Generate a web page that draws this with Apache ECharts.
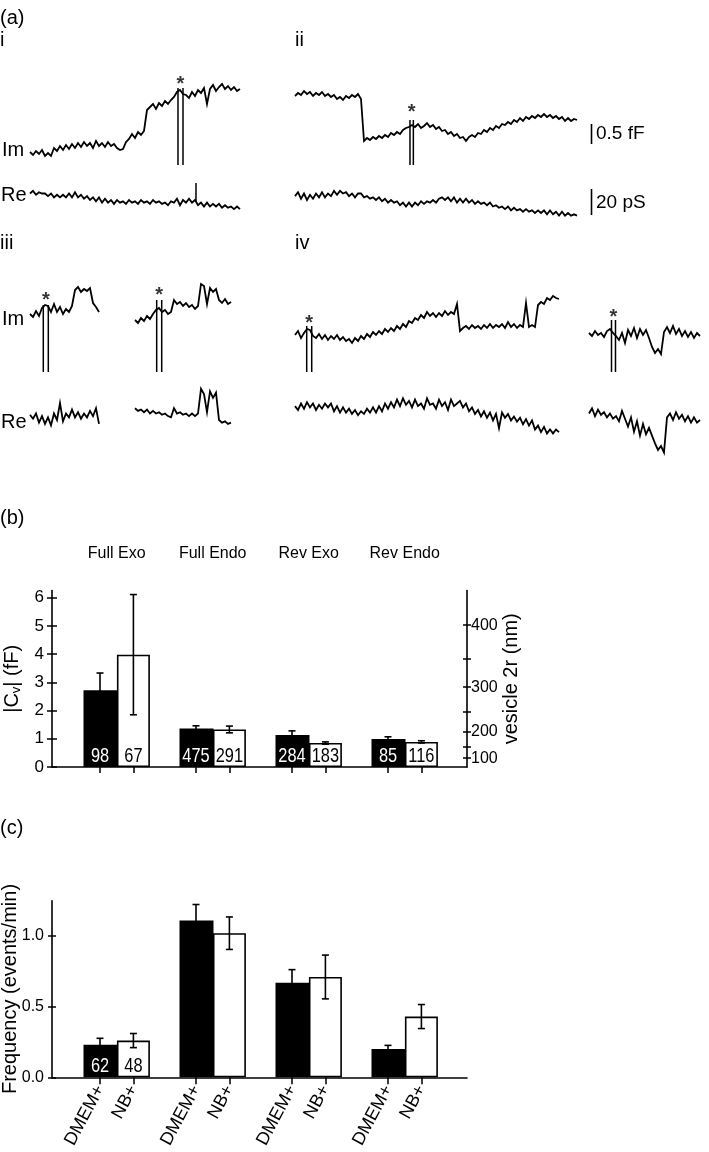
<!DOCTYPE html>
<html><head><meta charset="utf-8">
<script src="https://cdn.jsdelivr.net/npm/echarts@6/dist/echarts.min.js"></script>
<style>html,body{margin:0;padding:0;background:#fff}#c{width:709px;height:1152px}</style>
</head><body><div id="c"></div><script>
// ---------- Panel (a) traces: Im in aF, Re in pS, uniformly sampled ----------
const imI = [75,0,100,25,125,-25,50,-25,175,100,225,125,250,150,275,175,300,200,325,225,300,175,350,225,300,200,325,225,275,175,125,150,325,400,525,425,575,500,600,1125,1200,1275,1150,1300,1225,1350,1275,1375,1450,1575,1625,1525,1500,1425,1575,1475,1625,1550,1675,1275,1650,1750,1600,1700,1775,1650,1725,1625,1700,1600,1650];
const reI = [5,7,4,6,5,5,3,5,2,4,2,4,2,5,2,6,2,4,1,3,0,2,-1,2,-2,1,-2,0,-3,0,-2,-1,-3,0,-2,-1,-3,0,-2,-1,-3,0,-2,-1,-3,-2,-4,-1,-2,1,-4,0,-2,1,-2,0,-4,-2,-5,-2,-5,-3,-5,-3,-6,-4,-6,-5,-7,-5,-7];
const imII = [1100,1175,1125,1225,1150,1200,1100,1175,1125,1200,1100,1150,1075,1125,1025,1075,1000,1100,1050,1125,1075,1150,1025,
 -25,50,0,75,25,100,50,125,75,175,125,200,150,250,300,325,
 375,325,400,300,350,425,325,375,275,325,225,250,150,200,100,150,50,75,-25,75,125,75,175,150,250,200,300,250,350,300,400,375,450,400,500,450,550,475,575,525,600,550,625,575,650,575,625,550,600,525,575,475,550,475,525,500];
const reII = [3,6,1,5,0,4,1,5,2,6,2,5,3,7,4,7,5,6,3,5,2,5,5,
 2,3,1,2,0,2,-1,1,-2,0,-2,-1,-4,-2,-5,-2,
 -5,-2,-4,-1,-3,-1,-2,0,-2,1,2,0,2,-1,2,-2,1,-2,1,-2,0,-3,-1,-3,-2,-4,-2,-5,-4,-6,-5,-7,-5,-8,-6,-8,-7,-9,-7,-9,-8,-10,-8,-10,-8,-11,-8,-11,-9,-12,-9,-12,-10,-12,-11,-12];
const imIII1 = [150,75,225,100,300,375,350,200,400,200,325,150,275,200,350,750,825,700,775,725,800,425,325,200];
const imIII2 = [0,-75,50,-25,100,25,150,250,300,200,250,150,200,500,400,450,350,425,325,375,275,350,900,850,400,800,700,775,500,425,525,400,450];
const reIII1 = [4,1,5,-2,3,-3,2,-4,5,0,13,-1,5,2,8,2,6,1,5,2,7,3,9,-3];
const reIII2 = [9,7,8,6,8,5,7,5,6,4,5,3,2,9,5,6,4,5,3,5,3,5,24,20,6,22,17,21,0,-2,-1,-3,-2];
const imIV1 = [125,225,50,175,275,250,100,50,150,25,125,0,100,25,125,0,75,-25,25,-75,50,-25,100,25,150,75,200,125,225,150,275,200,300,225,350,275,400,325,475,425,550,500,625,550,700,600,675,575,675,600,725,625,700,650,900,225,300,350,275,375,300,350,275,375,300,400,300,375,325,400,300,450,325,400,300,375,325,925,325,375,325,875,950,900,1050,1000,1100,1050,1025];
const reIV1 = [3,0,5,1,6,2,5,0,4,1,5,2,5,-1,3,-2,2,-2,1,-3,0,-4,-1,-3,1,-2,2,-2,3,-1,5,1,6,2,8,3,9,4,7,2,8,3,5,1,9,4,5,1,8,3,6,0,8,3,5,7,2,5,-1,2,-3,0,-5,-1,-6,-2,-8,-3,-14,-2,-6,-3,-8,-5,-9,-6,-11,-7,-12,-8,-15,-12,-17,-13,-18,-15,-18,-15,-17];
const imIV2 = [175,100,225,125,175,75,225,275,175,100,0,175,-75,250,100,300,50,275,125,250,50,-175,-325,-225,-350,200,325,175,350,150,275,100,225,75,200,50,175,100];
const reIV2 = [5,9,3,8,4,6,2,5,1,3,-1,7,1,-5,2,-9,-1,-12,-3,-11,-6,-12,-18,-23,-20,-25,2,5,0,6,1,4,-1,3,-2,2,-2,0];
// calibration artefacts (sample position, top, bottom)
const spikesI = [[49.33,1675,-250],[51.0,1675,-250]];
const spikesIRe = [[55.33,-1,13]];
const spikesII = [[38.33,500,-625],[39.45,500,-625]];
const spikesIII1 = [[4.43,375,-1300],[6.1,375,-1300]];
const spikesIII2 = [[7.23,500,-1300],[8.9,500,-1300]];
const spikesIV1 = [[3.9,350,-800],[5.57,350,-800]];
const spikesIV2 = [[7.5,500,-800],[8.83,500,-800]];

// ---------- Panel (b) ----------
const groupsB = ['Full Exo','Full Endo','Rev Exo','Rev Endo'];
const cvDMEM = [2.72, 1.36, 1.13, 0.99];
const cvDMEMerr = [0.61, 0.10, 0.15, 0.08];
const cvNB = [3.98, 1.33, 0.85, 0.89];
const cvNBerr = [2.13, 0.12, 0.04, 0.04];
const nDMEMb = [98, 475, 284, 85];
const nNBb = [67, 291, 183, 116];
const cvTicks = [0,1,2,3,4,5,6];
const diamLabels = [100,200,300,400];
const diamTicks = [100,150,200,250,300,350,400];

// ---------- Panel (c) ----------
const condLabels = ['DMEM+','NB+'];
const freqDMEM = [0.23, 1.11, 0.67, 0.20];
const freqDMEMerr = [0.046, 0.113, 0.092, 0.026];
const freqNB = [0.26, 1.02, 0.71, 0.43];
const freqNBerr = [0.05, 0.115, 0.155, 0.085];
const nDMEMc = [62];
const nNBc = [48];
const freqTicks = [0, 0.5, 1.0];

// ---------- layout ----------
const REG = "'Liberation Sans', Arial, Helvetica, sans-serif";
const STEP = 3;            // px per sample
const IM_APX = 25;         // aF per px
const RE_PPX = 1/1.3;      // pS per px
const CM = 1e-5;           // fF per nm^2 (specific membrane capacitance)
const dToC = d => Math.PI * d * d * CM;
const cToD = c => Math.sqrt(c / (Math.PI * CM));

const traces = [
  {data: imI, left: 30, base: 155, kind: 'im', spikes: spikesI, star: 8},
  {data: reI, left: 30, base: 200, kind: 're', spikes: spikesIRe},
  {data: imII, left: 295, base: 140, kind: 'im', spikes: spikesII, star: 12},
  {data: reII, left: 295, base: 200, kind: 're'},
  {data: imIII1, left: 30, base: 320, kind: 'im', spikes: spikesIII1, star: 9},
  {data: imIII2, left: 135, base: 320, kind: 'im', spikes: spikesIII2, star: 9},
  {data: reIII1, left: 30, base: 420, kind: 're'},
  {data: reIII2, left: 135, base: 420, kind: 're'},
  {data: imIV1, left: 295, base: 340, kind: 'im', spikes: spikesIV1, star: 7},
  {data: imIV2, left: 589, base: 340, kind: 'im', spikes: spikesIV2, star: 7},
  {data: reIV1, left: 295, base: 410, kind: 're'},
  {data: reIV2, left: 589, base: 420, kind: 're'}
];

const grids = [], xAxes = [], yAxes = [], series = [];
const black = '#000';
const TRACE_W = 1.8;

function spikeRender(params, api) {
  const a = api.coord([api.value(0), api.value(1)]);
  const b = api.coord([api.value(0), api.value(2)]);
  return {type: 'line', shape: {x1: a[0], y1: a[1], x2: b[0], y2: b[1]}, style: {stroke: black, lineWidth: 1.5}};
}
function errRender(params, api) {
  const x = api.value(0), y = api.value(1), e = api.value(2);
  const hi = api.coord([x, y + e]), lo = api.coord([x, y - e]);
  const c = 3.5, st = {stroke: black, lineWidth: 1.6};
  return {type: 'group', children: [
    {type: 'line', shape: {x1: hi[0], y1: hi[1], x2: lo[0], y2: lo[1]}, style: st},
    {type: 'line', shape: {x1: hi[0] - c, y1: hi[1], x2: hi[0] + c, y2: hi[1]}, style: st},
    {type: 'line', shape: {x1: lo[0] - c, y1: lo[1], x2: lo[0] + c, y2: lo[1]}, style: st}
  ]};
}
// condensed count label drawn at the foot of its bar
function countRender(params, api) {
  const p = api.coord([api.value(0), 0]);
  const col = api.value(2) ? '#fff' : black;
  return {type: 'text', x: p[0], y: p[1] - 0.5, scaleX: 0.78,
    style: {text: String(api.value(1)), fontSize: 21, fontFamily: REG, fill: col, align: 'center', verticalAlign: 'bottom'}};
}

traces.forEach((t, k) => {
  const im = t.kind === 'im';
  const above = im ? 80 : 45, below = im ? 60 : 45;
  const u = im ? IM_APX : RE_PPX;
  const n = t.data.length;
  grids.push({left: t.left, top: t.base - above, width: (n - 1) * STEP, height: above + below, outerBoundsMode: 'none'});
  xAxes.push({type: 'value', gridIndex: k, min: 0, max: n - 1, show: false, axisLine: {onZero: false}});
  yAxes.push({type: 'value', gridIndex: k, min: -below * u, max: above * u, show: false, axisLine: {onZero: false}});
  series.push({type: 'line', xAxisIndex: k, yAxisIndex: k, data: t.data.map((v, i) => [i, v]),
    showSymbol: false, silent: true, lineStyle: {color: black, width: TRACE_W, join: 'miter'}, z: 3});
  if (t.spikes) {
    series.push({type: 'custom', xAxisIndex: k, yAxisIndex: k, data: t.spikes, renderItem: spikeRender, silent: true, z: 3});
  }
  if (t.star) {
    const mid = (t.spikes[0][0] + t.spikes[1][0]) / 2;
    series.push({type: 'scatter', xAxisIndex: k, yAxisIndex: k, data: [[mid, t.spikes[0][1]]],
      symbolSize: 1, itemStyle: {color: 'rgba(0,0,0,0)'}, silent: true,
      label: {show: true, formatter: '*', position: 'inside', offset: [0, -t.star + 4], fontSize: 20, fontWeight: 'bold', color: black, fontFamily: REG}});
  }
});

// ---------- panels (b) and (c) ----------
const HALF = 0.174;                 // bar centre offset from group centre
const XMIN = -0.674, XMAX = 3.649;  // value range of the group axis
const barCentres = [];
groupsB.forEach((g, i) => { barCentres.push(i - HALF, i + HALF); });
const axLine = {show: true, onZero: false, lineStyle: {color: black, width: 1.6}};
const noLine = {show: false, onZero: false};
const tickSt = {color: black, width: 1.5};

const gB = grids.length;
grids.push({left: 52, top: 590.6, width: 415, height: 176.4, outerBoundsMode: 'none'});
const gC = grids.length;
grids.push({left: 52, top: 900.7, width: 415, height: 176.6, outerBoundsMode: 'none'});

const xB = xAxes.length;
xAxes.push({type: 'value', gridIndex: gB, position: 'bottom', min: XMIN, max: XMAX, axisLine: axLine,
  splitLine: {show: false}, axisLabel: {show: false},
  axisTick: {show: true, length: 6, lineStyle: tickSt, customValues: barCentres}});
xAxes.push({type: 'value', gridIndex: gB, position: 'top', min: XMIN, max: XMAX, axisLine: noLine,
  splitLine: {show: false}, axisTick: {show: false},
  axisLabel: {customValues: [0, 1, 2, 3], formatter: v => groupsB[Math.round(v)], margin: 29, fontSize: 16, fontFamily: REG, color: black}});
const xC = xAxes.length;
xAxes.push({type: 'value', gridIndex: gC, position: 'bottom', min: XMIN, max: XMAX, axisLine: axLine,
  splitLine: {show: false},
  axisTick: {show: true, length: 7, lineStyle: tickSt, customValues: barCentres},
  axisLabel: {customValues: barCentres, formatter: v => (Math.round(v) > v ? condLabels[0] : condLabels[1]),
    rotate: 62, margin: 9, fontSize: 18, fontFamily: REG, color: black}});

const yB = yAxes.length;
yAxes.push({type: 'value', gridIndex: gB, position: 'left', min: 0, max: 6.25, axisLine: axLine, splitLine: {show: false},
  axisTick: {show: true, length: 5, lineStyle: tickSt, customValues: cvTicks},
  axisLabel: {customValues: cvTicks, margin: 8, fontSize: 17, fontFamily: REG, color: black},
  name: '|C{s|v}| (fF)', nameLocation: 'middle', nameRotate: 90, nameGap: 29, nameMoveOverlap: false,
  nameTextStyle: {fontSize: 20, fontFamily: REG, color: black, rich: {s: {fontSize: 13, fontFamily: REG, color: black, padding: [9, 0, 0, 0]}}}});
yAxes.push({type: 'value', gridIndex: gB, position: 'left', min: 0, max: 6.25, axisLine: noLine, splitLine: {show: false},
  axisLabel: {show: false}, axisTick: {show: true, inside: true, length: 5, lineStyle: tickSt, customValues: cvTicks}});
yAxes.push({type: 'value', gridIndex: gB, position: 'right', min: 0, max: 6.25, axisLine: axLine, splitLine: {show: false},
  axisTick: {show: true, length: 4, lineStyle: tickSt, customValues: diamTicks.map(dToC)},
  axisLabel: {customValues: diamLabels.map(dToC), formatter: v => Math.round(cToD(v)), margin: 4, fontSize: 16, fontFamily: REG, color: black},
  name: 'vesicle 2r (nm)', nameLocation: 'middle', nameRotate: 90, nameGap: 34, nameMoveOverlap: false,
  nameTextStyle: {fontSize: 20, fontFamily: REG, color: black}});
yAxes.push({type: 'value', gridIndex: gB, position: 'right', min: 0, max: 6.25, axisLine: noLine, splitLine: {show: false},
  axisLabel: {show: false}, axisTick: {show: true, inside: true, length: 4, lineStyle: tickSt, customValues: diamTicks.map(dToC)}});
const yC = yAxes.length;
yAxes.push({type: 'value', gridIndex: gC, position: 'left', min: 0, max: 1.25, axisLine: axLine, splitLine: {show: false},
  axisTick: {show: true, length: 4, lineStyle: tickSt, customValues: freqTicks},
  axisLabel: {customValues: freqTicks, formatter: v => v.toFixed(1), margin: 8, fontSize: 16, fontFamily: REG, color: black},
  name: 'Frequency (events/min)', nameLocation: 'middle', nameRotate: 90, nameGap: 32, nameMoveOverlap: false,
  nameTextStyle: {fontSize: 20, fontFamily: REG, color: black}});
yAxes.push({type: 'value', gridIndex: gC, position: 'left', min: 0, max: 1.25, axisLine: noLine, splitLine: {show: false},
  axisLabel: {show: false}, axisTick: {show: true, inside: true, length: 4, lineStyle: tickSt, customValues: freqTicks}});

function barPair(xi, yi, dm, dmErr, nb, nbErr, nDm, nNb) {
  series.push({type: 'bar', xAxisIndex: xi, yAxisIndex: yi, barWidth: 34, barGap: '-100%', z: 2,
    data: dm.map((v, i) => [i - HALF, v]), itemStyle: {color: black}});
  series.push({type: 'bar', xAxisIndex: xi, yAxisIndex: yi, barWidth: 33, barGap: '-100%', z: 2,
    data: nb.map((v, i) => [i + HALF, v]), itemStyle: {color: '#fff', borderColor: black, borderWidth: 1.6}});
  series.push({type: 'custom', xAxisIndex: xi, yAxisIndex: yi, z: 5, renderItem: errRender, silent: true,
    data: dm.map((v, i) => [i - HALF, v, dmErr[i]])});
  series.push({type: 'custom', xAxisIndex: xi, yAxisIndex: yi, z: 5, renderItem: errRender, silent: true,
    data: nb.map((v, i) => [i + HALF, v, nbErr[i]])});
  const counts = nDm.map((n, i) => [i - HALF, n, 1]).concat(nNb.map((n, i) => [i + HALF, n, 0]));
  series.push({type: 'custom', xAxisIndex: xi, yAxisIndex: yi, z: 6, renderItem: countRender, silent: true, data: counts});
}
barPair(xB, yB, cvDMEM, cvDMEMerr, cvNB, cvNBerr, nDMEMb, nNBb);
barPair(xC, yC, freqDMEM, freqDMEMerr, freqNB, freqNBerr, nDMEMc, nNBc);

// ---------- text annotations ----------
const txt = (x, y, s, size) => ({type: 'text', x: x, y: y, z: 10,
  style: {text: s, fontSize: size || 20, fontFamily: REG, fill: black, verticalAlign: 'middle'}});
const graphic = [
  txt(0, 18, '(a)'), txt(0, 40, 'i'), txt(295, 40, 'ii'), txt(0, 243, 'iii'), txt(295, 243, 'iv'),
  txt(2, 150, 'Im'), txt(1, 195, 'Re'), txt(2, 319, 'Im'), txt(1, 422, 'Re'),
  txt(596, 134, '0.5 fF', 19), txt(596, 203, '20 pS', 19),
  txt(0, 518, '(b)'), txt(0, 828, '(c)'),
  {type: 'line', z: 10, shape: {x1: 591.5, y1: 124, x2: 591.5, y2: 124 + 500 / IM_APX}, style: {stroke: black, lineWidth: 1.6}},
  {type: 'line', z: 10, shape: {x1: 591.5, y1: 189, x2: 591.5, y2: 189 + 20 / RE_PPX}, style: {stroke: black, lineWidth: 1.6}}
];

const chart = echarts.init(document.getElementById('c'), null, {renderer: 'canvas'});
chart.setOption({
  animation: false,
  backgroundColor: '#fff',
  textStyle: {fontFamily: REG, color: black},
  grid: grids, xAxis: xAxes, yAxis: yAxes, series: series, graphic: graphic
});
</script></body></html>
